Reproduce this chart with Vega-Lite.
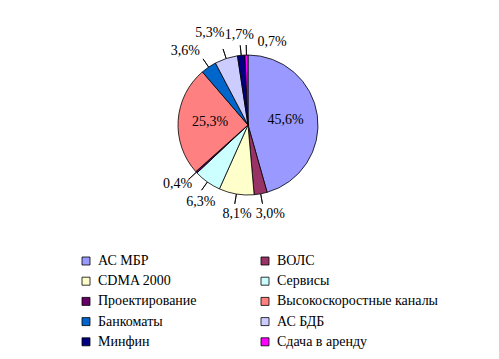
{
  "$schema": "https://vega.github.io/schema/vega-lite/v6.json",
  "width": 496,
  "height": 250,
  "padding": {"left": 0, "top": 0, "right": 3, "bottom": 109},
  "autosize": {"type": "none"},
  "background": "white",
  "config": {"view": {"stroke": null}, "font": "Liberation Serif"},
  "data": {"values": [
    {"cat": "АС МБР", "share": 45.6, "ord": 1},
    {"cat": "ВОЛС", "share": 3.0, "ord": 2},
    {"cat": "CDMA 2000", "share": 8.1, "ord": 3},
    {"cat": "Сервисы", "share": 6.3, "ord": 4},
    {"cat": "Проектирование", "share": 0.4, "ord": 5},
    {"cat": "Высокоскоростные каналы", "share": 25.3, "ord": 6},
    {"cat": "Банкоматы", "share": 3.6, "ord": 7},
    {"cat": "АС БДБ", "share": 5.3, "ord": 8},
    {"cat": "Минфин", "share": 1.7, "ord": 9},
    {"cat": "Сдача в аренду", "share": 0.7, "ord": 10}
  ]},
  "transform": [
    {"stack": "share", "groupby": [], "sort": [{"field": "ord", "order": "ascending"}], "as": ["s0", "s1"]},
    {"calculate": "(datum.s0 + datum.s1) / 2", "as": "mid"},
    {"calculate": "replace(format(datum.share, '.1f'), '.', ',') + '%'", "as": "label"}
  ],
  "layer": [
    {
      "mark": {"type": "arc", "outerRadius": 70, "stroke": "black", "strokeWidth": 0.8},
      "encoding": {
        "theta": {"field": "s0", "type": "quantitative", "scale": {"domain": [0, 100]}},
        "theta2": {"field": "s1"},
        "color": {
          "field": "cat", "type": "nominal", "sort": null,
          "scale": {
            "domain": ["АС МБР", "CDMA 2000", "Проектирование", "Банкоматы", "Минфин", "ВОЛС", "Сервисы", "Высокоскоростные каналы", "АС БДБ", "Сдача в аренду"],
            "range": ["#9999FF", "#FFFFCC", "#660066", "#0066CC", "#000080", "#993366", "#CCFFFF", "#FF8080", "#CCCCFF", "#FF00FF"]
          },
          "legend": {
            "orient": "none", "legendX": 79, "legendY": 254, "columns": 2,
            "title": null, "symbolType": "square", "symbolSize": 64,
            "symbolStrokeColor": "black", "symbolStrokeWidth": 0.8,
            "labelFont": "Liberation Serif", "labelFontSize": 14, "labelColor": "black",
            "labelOffset": 5, "rowPadding": 6.2, "columnPadding": 61, "padding": 0,
            "labelLimit": 300
          }
        }
      }
    },
    {
      "transform": [{"filter": "datum.share < 20"}],
      "mark": {"type": "arc", "radius": 80, "radius2": 70, "fill": null, "stroke": "black", "strokeWidth": 0.8},
      "encoding": {
        "theta": {"field": "mid", "type": "quantitative", "scale": {"domain": [0, 100]}},
        "theta2": {"field": "mid"}
      }
    },
    {
      "transform": [{"filter": "datum.share > 20"}],
      "mark": {"type": "text", "font": "Liberation Serif", "fontSize": 14, "color": "black", "radius": 38},
      "encoding": {
        "theta": {"field": "mid", "type": "quantitative", "scale": {"domain": [0, 100]}},
        "text": {"field": "label"}
      }
    },
    {
      "transform": [{"filter": "datum.ord == 9"}],
      "mark": {"type": "text", "font": "Liberation Serif", "fontSize": 14, "color": "black", "radius": 90},
      "encoding": {
        "theta": {"field": "mid", "type": "quantitative", "scale": {"domain": [0, 100]}},
        "text": {"field": "label"}
      }
    },
    {
      "transform": [{"filter": "datum.ord == 2"}],
      "mark": {"type": "text", "font": "Liberation Serif", "fontSize": 14, "color": "black", "radius": 90, "dx": 6},
      "encoding": {
        "theta": {"field": "mid", "type": "quantitative", "scale": {"domain": [0, 100]}},
        "text": {"field": "label"}
      }
    },
    {
      "transform": [{"filter": "datum.ord == 3"}],
      "mark": {"type": "text", "font": "Liberation Serif", "fontSize": 14, "color": "black", "radius": 90, "dx": 4},
      "encoding": {
        "theta": {"field": "mid", "type": "quantitative", "scale": {"domain": [0, 100]}},
        "text": {"field": "label"}
      }
    },
    {
      "transform": [{"filter": "datum.ord == 4"}],
      "mark": {"type": "text", "font": "Liberation Serif", "fontSize": 14, "color": "black", "radius": 90, "dx": 5, "dy": 4},
      "encoding": {
        "theta": {"field": "mid", "type": "quantitative", "scale": {"domain": [0, 100]}},
        "text": {"field": "label"}
      }
    },
    {
      "transform": [{"filter": "datum.ord == 5"}],
      "mark": {"type": "text", "font": "Liberation Serif", "fontSize": 14, "color": "black", "radius": 90, "dx": -4, "dy": -2},
      "encoding": {
        "theta": {"field": "mid", "type": "quantitative", "scale": {"domain": [0, 100]}},
        "text": {"field": "label"}
      }
    },
    {
      "transform": [{"filter": "datum.ord == 7"}],
      "mark": {"type": "text", "font": "Liberation Serif", "fontSize": 14, "color": "black", "radius": 90, "dx": -12},
      "encoding": {
        "theta": {"field": "mid", "type": "quantitative", "scale": {"domain": [0, 100]}},
        "text": {"field": "label"}
      }
    },
    {
      "transform": [{"filter": "datum.ord == 8"}],
      "mark": {"type": "text", "font": "Liberation Serif", "fontSize": 14, "color": "black", "radius": 90, "dx": -10, "dy": -6},
      "encoding": {
        "theta": {"field": "mid", "type": "quantitative", "scale": {"domain": [0, 100]}},
        "text": {"field": "label"}
      }
    },
    {
      "transform": [{"filter": "datum.ord == 10"}],
      "mark": {"type": "text", "font": "Liberation Serif", "fontSize": 14, "color": "black", "radius": 90, "dx": 26, "dy": 7},
      "encoding": {
        "theta": {"field": "mid", "type": "quantitative", "scale": {"domain": [0, 100]}},
        "text": {"field": "label"}
      }
    }
  ]
}
